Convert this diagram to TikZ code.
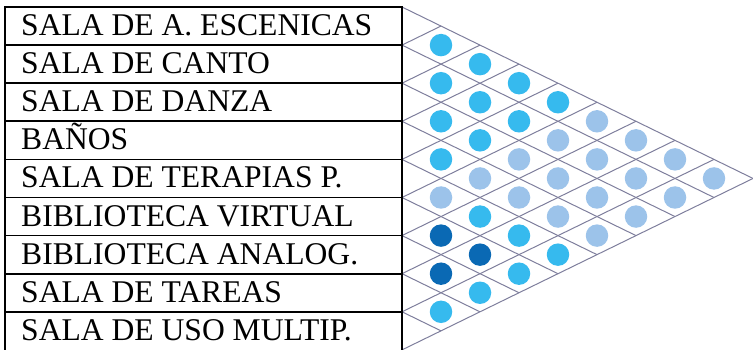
\documentclass[tikz,border=0pt]{standalone}
\usepackage{fontspec}
\setmainfont{Liberation Serif}
\definecolor{rejilla}{HTML}{7E7E9C}
\definecolor{cian}{HTML}{36BAEE}
\definecolor{azul}{HTML}{0A69B4}
\definecolor{claro}{HTML}{9CC3EA}
\usepackage{tikz}

\begin{document}
\begin{tikzpicture}[x=1pt, y=-1pt,
  espacio/.style={anchor=base west, inner sep=0pt, font=\fontsize{31.6}{36}\selectfont},
  punto/.style={circle, fill=#1, inner sep=0pt, minimum size=22.5pt}]
  \useasboundingbox (0,0) rectangle (753,350);
  % rejilla de relaciones
  \foreach \b in {0,...,9} {
    \draw[rejilla, line width=1pt] (402, {7+38.1*\b}) -- ++({39*(9-\b)}, {19.05*(9-\b)});
    \draw[rejilla, line width=1pt] (402, {7+38.1*\b}) -- ++({39*\b}, {-19.05*\b});
  }
  % puntos (fila i, fila j, color)
  \foreach \i/\j/\c in {1/2/cian, 2/3/cian, 3/4/cian, 4/5/cian, 5/6/claro, 6/7/azul, 7/8/azul, 8/9/cian,
      1/3/cian, 2/4/cian, 3/5/cian, 4/6/claro, 5/7/cian, 6/8/azul, 7/9/cian,
      1/4/cian, 2/5/cian, 3/6/claro, 4/7/claro, 5/8/cian, 6/9/cian,
      1/5/cian, 2/6/claro, 3/7/claro, 4/8/claro, 5/9/cian,
      1/6/claro, 2/7/claro, 3/8/claro, 4/9/claro,
      1/7/claro, 2/8/claro, 3/9/claro,
      1/8/claro, 2/9/claro,
      1/9/claro}
    \node[punto=\c] (p\i\j) at ({402+39*(\j-\i)}, {7+19.05*(\i+\j-1)}) {};
  % tabla de espacios
  \foreach \nombre [count=\n] in {SALA DE A. ESCENICAS, SALA DE CANTO, SALA DE DANZA, BAÑOS,
      SALA DE TERAPIAS P., BIBLIOTECA VIRTUAL, BIBLIOTECA ANALOG., SALA DE TAREAS, SALA DE USO MULTIP.}
    \node[espacio] (fila\n) at (21, {7+38.1*(\n-1)+28.5}) {\nombre};
  \foreach \b in {0,...,8}
    \draw[line width=1.6pt] (5, {7+38.1*\b}) -- (402, {7+38.1*\b});
  \draw[line width=1.6pt] (5,6.2) -- (5,350);
  \draw[line width=1.6pt] (402,6.2) -- (402,350);
\end{tikzpicture}
\end{document}
